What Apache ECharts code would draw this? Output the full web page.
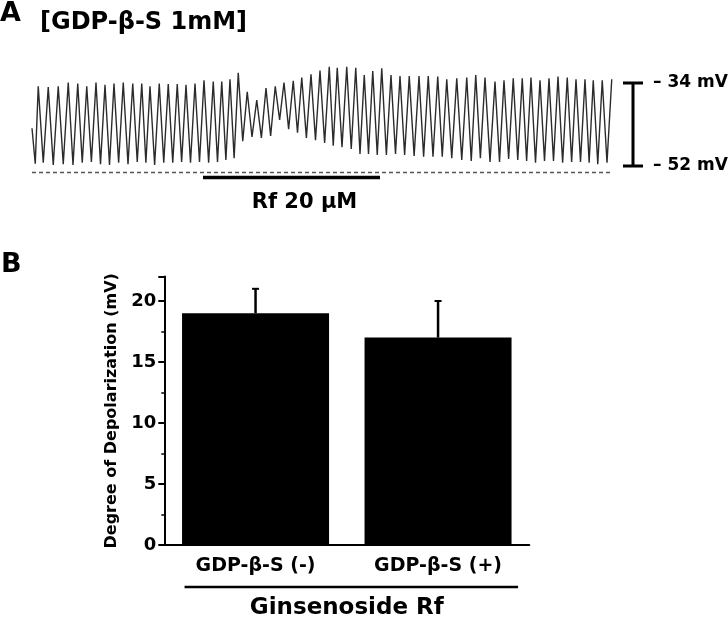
<!DOCTYPE html>
<html><head><meta charset="utf-8">
<script src="https://cdn.jsdelivr.net/npm/echarts@6/dist/echarts.min.js"></script>
<style>html,body{margin:0;padding:0;background:#fff}#c{width:728px;height:621px}</style>
</head><body><div id="c"></div>
<script>
// ---- Panel A: membrane potential trace (time in s, potential in mV) ----
const peakTimes = [2.5,6.5,10.5,14.5,18.3,21.9,25.6,29.2,32.8,36.5,40.3,43.9,47.2,50.9,54.5,58.1,61.6,65.2,68.8,72.5,75.9,79.2,82.5,
  86.1,89.9,93.6,97.3,100.8,104.5,107.9,111.6,115.2,118.9,122.1,125.9,129.5,132.9,136.3,139.9,143.6,
  147.2,150.9,154.8,158.5,162.3,165.9,169.9,173.9,177.5,181.2,185.2,188.8,192.5,196.1,199.6,203.2,206.8,210.4,214.1,217.6,221.2,224.5,228.1,231.9];
const peakMV = [-34.7,-34.9,-34.7,-33.9,-34.1,-34.7,-33.9,-34.4,-34.1,-33.9,-34.1,-34.1,-34.7,-34.1,-34.2,-34.2,-34.4,-34.1,-33.4,-33.7,-33.7,-33.2,-31.8,
  -35.9,-37.7,-35.1,-34.7,-33.9,-33.5,-32.8,-32.1,-31.3,-30.5,-30.7,-30.5,-30.7,-32.3,-31.4,-30.8,-32.3,
  -32.5,-32.5,-32.5,-32.5,-32.6,-33.2,-33.0,-32.8,-32.3,-32.8,-33.7,-33.4,-33.0,-33.0,-32.8,-33.4,-33.0,-32.6,-32.8,-33.2,-33.2,-33.4,-33.4,-33.2];
const troughMV = [-51.5,
  -51.3,-51.8,-51.6,-51.8,-51.3,-51.1,-51.6,-51.8,-51.3,-51.6,-51.1,-51.3,-51.8,-51.3,-51.3,-51.1,-51.3,-51.1,-51.3,-51.1,-50.7,-50.3,
  -46.6,-45.7,-45.9,-45.5,-42.0,-44.0,-44.8,-45.9,-46.4,-47.0,-47.6,-47.9,-48.3,-49.4,-49.4,-49.6,-49.6,-49.4,
  -49.6,-49.8,-50.0,-50.0,-50.0,-50.3,-50.7,-50.9,-50.3,-51.1,-51.1,-50.5,-50.7,-50.9,-51.3,-50.9,-50.9,-51.3,-51.1,-51.1,-51.3,-51.6,-51.3];
const firstTroughTime = 1.3;
const traceStart = [0, -43.8];
const baselineMV = -53.4;
const rfStart = 68.4, rfEnd = 139.2;
const rfLabel = 'Rf 20 μM';
const scaleBarMV = [-34, -52];
const panelATitle = '[GDP-β-S 1mM]';

// ---- Panel B: bar chart ----
const categories = ['GDP-β-S (-)', 'GDP-β-S (+)'];
const barValues = [19.0, 17.0];
const barErrors = [2.0, 3.0];
const yAxisName = 'Degree of Depolarization (mV)';
const xGroupName = 'Ginsenoside Rf';

const F = 'DejaVu Sans';
const trace = [traceStart];
for (let i = 0; i < peakTimes.length; i++) {
  const tt = i === 0 ? firstTroughTime : (peakTimes[i - 1] + peakTimes[i]) / 2;
  trace.push([tt, troughMV[i]]);
  trace.push([peakTimes[i], peakMV[i]]);
}

const chart = echarts.init(document.getElementById('c'), null, {renderer: 'canvas'});
const aTop = 83 - 5 * (83 / 18), aH = 27 * (83 / 18);
const rfBarY = -54.45;
const capSeries = (v) => ({
  type: 'line', xAxisIndex: 1, yAxisIndex: 1, symbol: 'circle', symbolSize: 0, showSymbol: true,
  lineStyle: {color: '#000', width: 3},
  data: [{value: [-1, v]}, {value: [1, v], label: {
    show: true, position: 'right', distance: 10, color: '#000',
    fontFamily: F, fontWeight: 'bold', fontSize: 17,
    formatter: () => '– ' + Math.abs(v) + ' mV'}}]
});

const option = {
  animation: false,
  backgroundColor: '#fff',
  grid: [
    {left: 32, width: 581, top: aTop, height: aH},
    {left: 623, width: 20, top: aTop, height: aH},
    {left: 164.3, width: 365, top: 276.6, height: 268.4}
  ],
  xAxis: [
    {gridIndex: 0, type: 'value', min: 0, max: 232.4, show: false},
    {gridIndex: 1, type: 'value', min: -1, max: 1, show: false},
    {gridIndex: 2, type: 'category', data: categories,
      axisLine: {lineStyle: {color: '#000', width: 2}},
      axisTick: {alignWithLabel: true, length: 6, lineStyle: {color: '#000', width: 2}},
      axisLabel: {color: '#000', fontFamily: F, fontWeight: 'bold', fontSize: 19, margin: 12},
      name: xGroupName, nameLocation: 'middle', nameGap: 52,
      nameTextStyle: {color: '#000', fontFamily: F, fontWeight: 'bold', fontSize: 23}
    }
  ],
  yAxis: [
    {gridIndex: 0, type: 'value', min: -56, max: -29, show: false},
    {gridIndex: 1, type: 'value', min: -56, max: -29, show: false},
    {gridIndex: 2, type: 'value', min: 0, max: 22, interval: 5,
      axisLine: {show: true, lineStyle: {color: '#000', width: 2}},
      axisTick: {show: true, length: 6, lineStyle: {color: '#000', width: 2}},
      minorTick: {show: true, splitNumber: 2, length: 3, lineStyle: {color: '#000', width: 1.5}},
      splitLine: {show: false},
      axisLabel: {color: '#000', fontFamily: F, fontWeight: 'bold', fontSize: 18, margin: 8, showMaxLabel: false},
      name: yAxisName, nameLocation: 'middle', nameGap: 44, nameRotate: 90,
      nameTextStyle: {color: '#000', fontFamily: F, fontWeight: 'bold', fontSize: 16}
    }
  ],
  series: [
    {type: 'line', xAxisIndex: 0, yAxisIndex: 0, data: trace, symbol: 'none', showSymbol: false,
      lineStyle: {color: '#2b2b2b', width: 1.4}, z: 3,
      markLine: {silent: true, symbol: 'none', label: {show: false}, animation: false,
        data: [
          {yAxis: baselineMV, lineStyle: {type: [4, 3], color: '#555', width: 1.3}},
          [{coord: [rfStart, rfBarY], lineStyle: {type: 'solid', color: '#000', width: 3.3}},
           {coord: [rfEnd, rfBarY]}]
        ]}
    },
    {type: 'line', xAxisIndex: 1, yAxisIndex: 1, symbol: 'none', lineStyle: {color: '#000', width: 3},
      data: [[0, scaleBarMV[0]], [0, scaleBarMV[1]]]},
    capSeries(scaleBarMV[0]),
    capSeries(scaleBarMV[1]),
    {type: 'bar', xAxisIndex: 2, yAxisIndex: 2, data: barValues, barWidth: 147, itemStyle: {color: '#000'}},
    {type: 'custom', xAxisIndex: 2, yAxisIndex: 2, z: 5,
      data: barValues.map((v, i) => [i, v, v + barErrors[i]]),
      renderItem: (params, api) => {
        const b = api.coord([api.value(0), api.value(1)]);
        const t = api.coord([api.value(0), api.value(2)]);
        return {type: 'group', children: [
          {type: 'line', shape: {x1: b[0], y1: b[1], x2: t[0], y2: t[1]}, style: {stroke: '#000', lineWidth: 2.5}},
          {type: 'line', shape: {x1: t[0] - 3.5, y1: t[1], x2: t[0] + 3.5, y2: t[1]}, style: {stroke: '#000', lineWidth: 2}}
        ]};
      }
    }
  ]
};
chart.setOption(option);

const p1 = chart.convertToPixel({gridIndex: 0}, [rfStart, rfBarY]);
const p2 = chart.convertToPixel({gridIndex: 0}, [rfEnd, rfBarY]);
const b1 = chart.convertToPixel({gridIndex: 2}, [0, 0]);
const b2 = chart.convertToPixel({gridIndex: 2}, [1, 0]);
const txt = (x, y, s, size, align) => ({type: 'text', x: x, y: y, style: {text: s, fill: '#000',
  font: 'bold ' + size + 'px "' + F + '"', align: align || 'left', verticalAlign: 'middle'}});
chart.setOption({graphic: [
  txt(0, 14, 'A', 27),
  txt(40, 23, panelATitle, 24),
  txt((p1[0] + p2[0]) / 2 + 13, p1[1] + 25, rfLabel, 21, 'center'),
  txt(1, 265, 'B', 27),
  {type: 'line', shape: {x1: b1[0] - 71, y1: 587, x2: b2[0] + 80, y2: 587}, style: {stroke: '#000', lineWidth: 2.5}}
]});
</script></body></html>
